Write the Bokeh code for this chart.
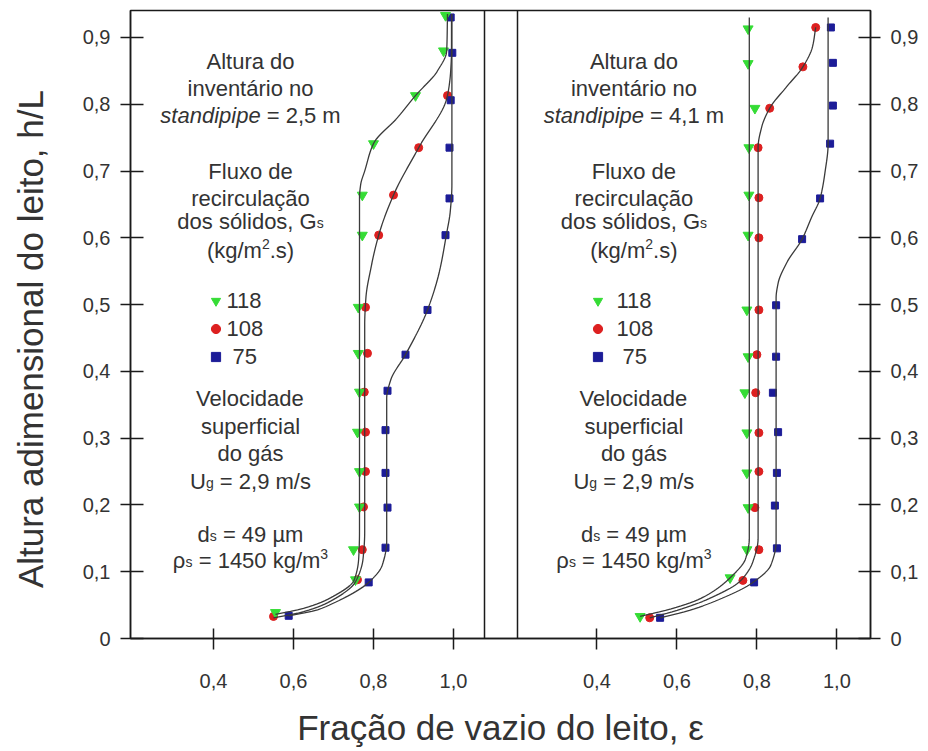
import numpy as np
from bokeh.plotting import figure
from bokeh.models import Range1d, LinearAxis, FixedTicker, Label, Legend, LegendItem, Span
from bokeh.embed import file_html
from bokeh.resources import INLINE

# ---------------- data ----------------
# Left panel: standpipe inventory 2,5 m
L_GREEN_H = [0.039, 0.088, 0.133, 0.197, 0.250, 0.309, 0.369, 0.427, 0.496, 0.604, 0.664, 0.741, 0.813, 0.880, 0.933]
L_GREEN_E = [0.555, 0.755, 0.750, 0.765, 0.765, 0.760, 0.765, 0.762, 0.762, 0.772, 0.772, 0.800, 0.905, 0.975, 0.980]
L_RED_H = [0.033, 0.088, 0.133, 0.197, 0.250, 0.309, 0.369, 0.427, 0.496, 0.604, 0.664, 0.735, 0.813]
L_RED_E = [0.550, 0.760, 0.772, 0.775, 0.780, 0.780, 0.777, 0.785, 0.780, 0.813, 0.850, 0.913, 0.985]
L_BLUE_H = [0.034, 0.084, 0.136, 0.196, 0.248, 0.312, 0.371, 0.425, 0.492, 0.604, 0.659, 0.735, 0.806, 0.877, 0.930]
L_BLUE_E = [0.588, 0.788, 0.830, 0.835, 0.830, 0.830, 0.835, 0.880, 0.935, 0.980, 0.990, 0.990, 0.993, 0.997, 0.993]

# fitted curves (left)
L_GREEN_FIT_H = [0.036, 0.045, 0.060, 0.088, 0.120, 0.160, 0.660, 0.680, 0.700, 0.741, 0.780, 0.813, 0.850, 0.880, 0.935]
L_GREEN_FIT_E = [0.555, 0.625, 0.690, 0.752, 0.763, 0.765, 0.765, 0.768, 0.778, 0.800, 0.860, 0.905, 0.960, 0.983, 0.985]
L_RED_FIT_H = [0.031, 0.040, 0.055, 0.085, 0.120, 0.160, 0.470, 0.510, 0.556, 0.604, 0.664, 0.735, 0.813, 0.850, 0.880, 0.935]
L_RED_FIT_E = [0.550, 0.625, 0.690, 0.755, 0.774, 0.778, 0.778, 0.781, 0.794, 0.813, 0.850, 0.913, 0.985, 0.993, 0.995, 0.995]
L_BLUE_FIT_H = [0.034, 0.043, 0.053, 0.070, 0.084, 0.110, 0.145, 0.360, 0.387, 0.425, 0.492, 0.550, 0.604, 0.640, 0.680, 0.935]
L_BLUE_FIT_E = [0.588, 0.660, 0.700, 0.755, 0.788, 0.822, 0.833, 0.833, 0.843, 0.880, 0.935, 0.965, 0.982, 0.992, 0.996, 0.996]

# Right panel: standpipe inventory 4,1 m
R_GREEN_H = [0.033, 0.091, 0.133, 0.196, 0.248, 0.308, 0.368, 0.422, 0.492, 0.604, 0.664, 0.735, 0.794, 0.861, 0.913]
R_GREEN_E = [0.508, 0.733, 0.775, 0.778, 0.775, 0.775, 0.770, 0.778, 0.775, 0.778, 0.780, 0.780, 0.795, 0.778, 0.778]
R_RED_H = [0.031, 0.087, 0.133, 0.196, 0.250, 0.308, 0.368, 0.425, 0.492, 0.600, 0.660, 0.735, 0.794, 0.856, 0.915]
R_RED_E = [0.532, 0.765, 0.805, 0.795, 0.805, 0.805, 0.797, 0.800, 0.805, 0.805, 0.805, 0.803, 0.832, 0.915, 0.947]
R_BLUE_H = [0.031, 0.084, 0.135, 0.199, 0.248, 0.309, 0.368, 0.422, 0.499, 0.598, 0.659, 0.741, 0.798, 0.862, 0.915]
R_BLUE_E = [0.558, 0.793, 0.850, 0.845, 0.850, 0.853, 0.840, 0.848, 0.848, 0.913, 0.958, 0.983, 0.990, 0.990, 0.985]

# fitted curves (right)
R_GREEN_FIT_H = [0.033, 0.045, 0.060, 0.091, 0.120, 0.150, 0.930]
R_GREEN_FIT_E = [0.508, 0.590, 0.660, 0.733, 0.772, 0.781, 0.781]
R_RED_FIT_H = [0.031, 0.042, 0.057, 0.087, 0.115, 0.150, 0.735, 0.766, 0.794, 0.826, 0.856, 0.886, 0.915]
R_RED_FIT_E = [0.532, 0.600, 0.670, 0.760, 0.790, 0.803, 0.803, 0.812, 0.832, 0.874, 0.915, 0.939, 0.947]
R_BLUE_FIT_H = [0.031, 0.042, 0.057, 0.084, 0.110, 0.145, 0.510, 0.532, 0.562, 0.598, 0.631, 0.659, 0.697, 0.741, 0.930]
R_BLUE_FIT_E = [0.558, 0.630, 0.700, 0.790, 0.835, 0.848, 0.848, 0.853, 0.874, 0.913, 0.937, 0.958, 0.970, 0.978, 0.978]

SERIES_LABELS = ["118", "108", "\u00a075"]
Y_TICKS = [0.0, 0.1, 0.2, 0.3, 0.4, 0.5, 0.6, 0.7, 0.8, 0.9]
Y_TICK_LABELS = ["0", "0,1", "0,2", "0,3", "0,4", "0,5", "0,6", "0,7", "0,8", "0,9"]
X_TICKS = [0.4, 0.6, 0.8, 1.0]
X_TICK_LABELS = ["0,4", "0,6", "0,8", "1,0"]
X_TITLE = "Fra\u00e7\u00e3o de vazio do leito, \u03b5"
Y_TITLE = "Altura adimensional do leito, h/L\u00a0\u00a0\u00a0"

# ---------------- layout ----------------
W, H = 928, 751
F_LEFT, F_RIGHT, F_TOP, F_BOTTOM = 130, 870, 10, 638
PX_X = 400.0
PX_Y = 667.8
L_START = 0.1925
SHIFT = 0.9585
L_END = L_START + (F_RIGHT - F_LEFT) / PX_X
R_START, R_END = L_START - SHIFT, L_END - SHIFT
Y_END = (F_BOTTOM - F_TOP) / PX_Y
TEXT_DY = -9  # baseline correction for annotation text

GREEN, RED, BLUE = "#35dc35", "#dd2020", "#1c1c98"
INK = "#1a1a1a"
TEXT_COLOR = "#333333"
FONT = "Liberation Sans"


def sx(px):
    return L_START + (px - F_LEFT) / PX_X


def sy(py):
    return (F_BOTTOM - py) / PX_Y


def pchip(xk, yk, xn):
    xk = np.asarray(xk, float)
    yk = np.asarray(yk, float)
    h = np.diff(xk)
    d = np.diff(yk) / h
    n = len(xk)
    m = np.zeros(n)
    m[0], m[-1] = d[0], d[-1]
    for k in range(1, n - 1):
        if d[k - 1] * d[k] <= 0:
            m[k] = 0.0
        else:
            w1 = 2 * h[k] + h[k - 1]
            w2 = h[k] + 2 * h[k - 1]
            m[k] = (w1 + w2) / (w1 / d[k - 1] + w2 / d[k])
    idx = np.clip(np.searchsorted(xk, xn) - 1, 0, n - 2)
    t = (xn - xk[idx]) / h[idx]
    h00 = 2 * t**3 - 3 * t**2 + 1
    h10 = t**3 - 2 * t**2 + t
    h01 = -2 * t**3 + 3 * t**2
    h11 = t**3 - t**2
    return h00 * yk[idx] + h10 * h[idx] * m[idx] + h01 * yk[idx + 1] + h11 * h[idx] * m[idx + 1]


def fit_curve(hk, ek):
    yy = np.linspace(hk[0], hk[-1], 400)
    return pchip(hk, ek, yy), yy


p = figure(width=W, height=H, x_range=Range1d(L_START, L_END), y_range=Range1d(0, Y_END),
           x_axis_type=None, y_axis_type=None, toolbar_location=None, output_backend="svg",
           min_border_left=F_LEFT, min_border_right=W - F_RIGHT,
           min_border_top=F_TOP, min_border_bottom=H - F_BOTTOM)
p.extra_x_ranges = {"right": Range1d(R_START, R_END)}
p.outline_line_color = INK
p.outline_line_width = 1.5
p.background_fill_color = "white"
p.border_fill_color = "white"


def style_axis(ax, tin, tout, standoff):
    ax.axis_line_color = INK
    ax.axis_line_width = 1.5
    ax.major_tick_line_color = INK
    ax.major_tick_line_width = 1.5
    ax.major_tick_in = tin
    ax.major_tick_out = tout
    ax.minor_tick_line_color = None
    ax.major_label_standoff = standoff
    ax.major_label_text_font = FONT
    ax.major_label_text_font_size = "20px"
    ax.major_label_text_color = TEXT_COLOR
    ax.axis_label_text_font = FONT
    ax.axis_label_text_font_size = "35px"
    ax.axis_label_text_font_style = "normal"
    ax.axis_label_text_color = TEXT_COLOR


yl = LinearAxis(ticker=FixedTicker(ticks=Y_TICKS), major_label_overrides=dict(zip(Y_TICKS, Y_TICK_LABELS)),
                axis_label=Y_TITLE)
style_axis(yl, 13, 10, 10)
yl.axis_label_standoff = 30
p.add_layout(yl, "left")
yr = LinearAxis(ticker=FixedTicker(ticks=Y_TICKS), major_label_overrides=dict(zip(Y_TICKS, Y_TICK_LABELS)))
style_axis(yr, 12, 10, 10)
p.add_layout(yr, "right")

x_ticks_all = list(X_TICKS) + [v + SHIFT for v in X_TICKS]
x_labels_all = list(X_TICK_LABELS) + list(X_TICK_LABELS)
xb = LinearAxis(ticker=FixedTicker(ticks=x_ticks_all), major_label_overrides=dict(zip(x_ticks_all, x_labels_all)),
                axis_label=X_TITLE)
style_axis(xb, 10, 11, 24)
xb.axis_label_standoff = 17
p.add_layout(xb, "below")

# inner borders of the two panels
p.add_layout(Span(location=sx(484), dimension="height", line_color=INK, line_width=1.5))
p.add_layout(Span(location=sx(517), dimension="height", line_color=INK, line_width=1.5))


def draw_panel(rng, green, red, blue, fits):
    kw = {} if rng is None else {"x_range_name": rng}
    r_red = p.scatter(red[0], red[1], marker="circle", size=8, fill_color=RED, line_color=RED, **kw)
    r_blue = p.scatter(blue[0], blue[1], marker="square", size=7, fill_color=BLUE, line_color=BLUE, **kw)
    r_green = p.scatter(green[0], green[1], marker="inverted_triangle", size=10, fill_color=GREEN, line_color=GREEN, **kw)
    for hk, ek in fits:
        xx, yy = fit_curve(hk, ek)
        p.line(xx, yy, line_color="#3a3a3a", line_width=1.3, **kw)
    return r_green, r_red, r_blue


left_r = draw_panel(None, (L_GREEN_E, L_GREEN_H), (L_RED_E, L_RED_H), (L_BLUE_E, L_BLUE_H),
                    [(L_GREEN_FIT_H, L_GREEN_FIT_E), (L_RED_FIT_H, L_RED_FIT_E), (L_BLUE_FIT_H, L_BLUE_FIT_E)])
right_r = draw_panel("right", (R_GREEN_E, R_GREEN_H), (R_RED_E, R_RED_H), (R_BLUE_E, R_BLUE_H),
                     [(R_GREEN_FIT_H, R_GREEN_FIT_E), (R_RED_FIT_H, R_RED_FIT_E), (R_BLUE_FIT_H, R_BLUE_FIT_E)])


def make_legend(renderers, loc, standoff):
    leg = Legend(items=[LegendItem(label=lab, renderers=[r]) for lab, r in zip(SERIES_LABELS, renderers)],
                 location=loc, orientation="vertical", border_line_color=None,
                 background_fill_alpha=0.0, padding=0, margin=0, glyph_width=23, glyph_height=25,
                 label_height=25, spacing=2, label_standoff=standoff,
                 label_text_font=FONT, label_text_font_size="22px", label_text_color=TEXT_COLOR)
    p.add_layout(leg)


make_legend(left_r, (73.5, 268.5), 0)
make_legend(right_r, (455.5, 268.5), 8)

# ---------------- annotation texts ----------------
GLYPH_W = {' ': 278, '(': 333, ')': 333, ',': 278, '.': 278, '/': 278, '=': 584, '\u00b5': 576, '\u03c1': 578,
           'A': 667, 'F': 611, 'G': 778, 'U': 722, 'V': 667,
           'a': 556, 'c': 500, 'd': 556, 'e': 556, 'f': 278, 'g': 556, 'i': 222, 'k': 500, 'l': 222,
           'm': 833, 'n': 556, 'o': 556, 'p': 556, 'r': 333, 's': 500, 't': 278, 'u': 556, 'v': 500,
           'x': 500, 'z': 500, '\u00e1': 556, '\u00e3': 556, '\u00e7': 500, '\u00f3': 556}
TEXT_CX = sx(250)
BIG, SMALL = 22, 14


def text_width(s, size):
    return sum(GLYPH_W.get(ch, 556) for ch in s) * size / 1000.0


def add_text_line(parts, base_py, rng):
    total = sum(text_width(t, sz) for t, sz, _, _ in parts)
    x = TEXT_CX - total / 2 / PX_X
    for t, sz, rise, style in parts:
        lead = len(t) - len(t.lstrip(" "))
        x += text_width(" " * lead, sz) / PX_X
        body = t.lstrip(" ")
        kw = dict(x=x, y=sy(base_py + TEXT_DY - rise), text=body, text_font=FONT, text_font_size=f"{sz}px",
                  text_font_style=style, text_color=TEXT_COLOR, text_align="left", text_baseline="alphabetic")
        if rng is not None:
            kw["x_range_name"] = rng
        p.add_layout(Label(**kw))
        x += text_width(body, sz) / PX_X


def panel_texts(rng, inventory):
    lines = [
        ([("Altura do", BIG, 0, "normal")], 70),
        ([("invent\u00e1rio no", BIG, 0, "normal")], 97),
        ([("standipipe", BIG, 0, "italic"), (" = " + inventory, BIG, 0, "normal")], 124),
        ([("Fluxo de", BIG, 0, "normal")], 180),
        ([("recircula\u00e7\u00e3o", BIG, 0, "normal")], 207),
        ([("dos s\u00f3lidos, G", BIG, 0, "normal"), ("s", SMALL, -1, "normal")], 230),
        ([("(kg/m", BIG, 0, "normal"), ("2", SMALL, 7, "normal"), (".s)", BIG, 0, "normal")], 259),
        ([("Velocidade", BIG, 0, "normal")], 407),
        ([("superficial", BIG, 0, "normal")], 435),
        ([("do g\u00e1s", BIG, 0, "normal")], 462),
        ([("U", BIG, 0, "normal"), ("g", SMALL, -1, "normal"), (" = 2,9 m/s", BIG, 0, "normal")], 490),
        ([("d", BIG, 0, "normal"), ("s", SMALL, -1, "normal"), (" = 49 \u00b5m", BIG, 0, "normal")], 543),
        ([("\u03c1", BIG, 0, "normal"), ("s", SMALL, -1, "normal"), (" = 1450 kg/m", BIG, 0, "normal"),
          ("3", SMALL, 7, "normal")], 569),
    ]
    for parts, base in lines:
        add_text_line(parts, base, rng)


panel_texts(None, "2,5 m")
panel_texts("right", "4,1 m")

open("out.html", "w").write(file_html(p, INLINE))
